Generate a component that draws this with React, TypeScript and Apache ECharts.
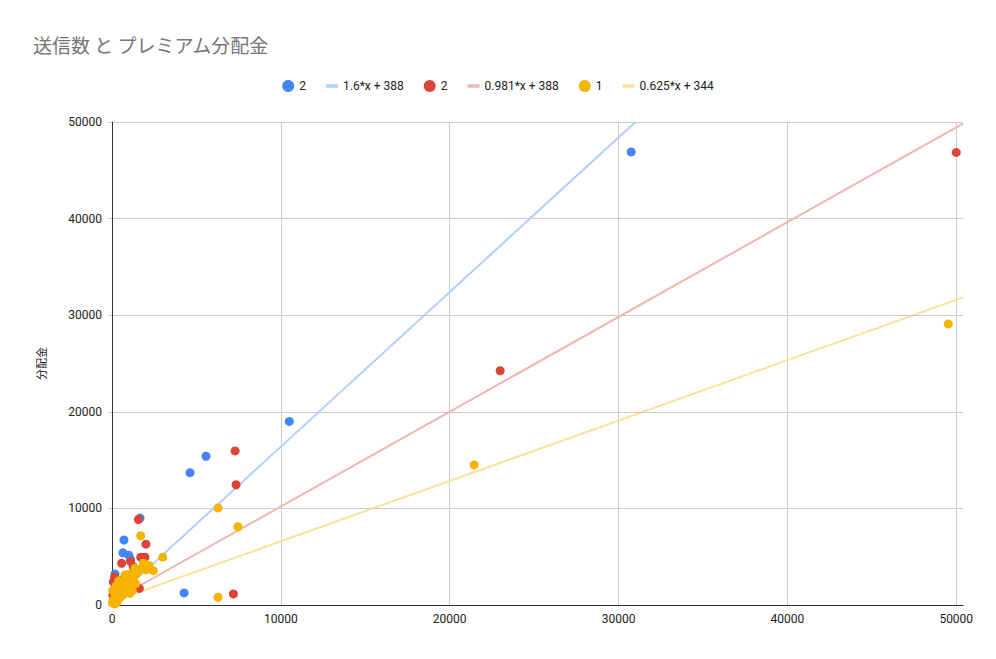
import React, { useEffect, useRef } from "react";
import * as echarts from "echarts";

const titleText = "送信数 と プレミアム分配金";
const yAxisName = "分配金";

const blueLabel = "2";
const blueTrendLabel = "1.6*x + 388";
const redLabel = "2";
const redTrendLabel = "0.981*x + 388";
const yellowLabel = "1";
const yellowTrendLabel = "0.625*x + 344";

const bluePoints: number[][] = [
  [30750, 46900], [10500, 19000], [5570, 15400], [4620, 13700], [4270, 1250],
  [1660, 9000], [710, 6730], [650, 5400], [1000, 5150], [180, 3200],
  [1100, 4700], [400, 2200], [800, 2700], [300, 1500], [100, 800],
  [1200, 3000], [500, 1200],
];

const redPoints: number[][] = [
  [50000, 46850], [22990, 24250], [7290, 15950], [7350, 12450], [7190, 1150],
  [1560, 8850], [2010, 6300], [1950, 4950], [1700, 4950], [570, 4320],
  [1100, 4500], [1260, 3960], [80, 2400], [1620, 1720], [300, 2300],
  [600, 2600], [900, 3100], [200, 1800], [50, 1000], [1000, 1700],
  [150, 2900], [700, 2100],
];

const yellowPoints: number[][] = [
  [49530, 29100], [21450, 14500], [7460, 8100], [6280, 10050], [6280, 800],
  [3000, 4950], [1700, 7180], [2450, 3550], [1860, 4320], [1760, 3800],
  [1360, 3800], [2010, 3650], [770, 3100], [1170, 2590], [970, 1890],
  [470, 1890], [180, 1210], [1070, 1210], [80, 520], [300, 300],
  [150, 100], [50, 1500], [400, 2500], [600, 2100], [800, 1500],
  [1300, 2900], [900, 2700], [250, 2000], [500, 800], [700, 1100],
  [1000, 2300], [1500, 3300], [350, 1000], [200, 400],
  [600, 1700], [1200, 1500], [1100, 3200], [30, 200],
  [1400, 2200], [2200, 4100], [2100, 3800],
];

const blueTrend: number[][] = [[0, 388], [31000, 50000]];
const redTrend: number[][] = [[0, 388], [50400, 49830]];
const yellowTrend: number[][] = [[0, 344], [50400, 31844]];

const xMaxData = 50400;
const xMaxTicks = 50000;
const yMax = 50000;
const tickStep = 10000;

const labels: Record<string, string> = {
  b: blueLabel,
  bt: blueTrendLabel,
  r: redLabel,
  rt: redTrendLabel,
  y: yellowLabel,
  yt: yellowTrendLabel,
};

const BLUE = "#4285F4";
const RED = "#DB4437";
const YELLOW = "#F4B400";
const BLUE_L = "#B3CEFB";
const RED_L = "#F1B4AF";
const YELLOW_L = "#FBE199";

const trendIcon = "path://M0,0H14V4H0Z";

export default function App() {
  const ref = useRef<HTMLDivElement>(null);
  useEffect(() => {
    if (!ref.current) return;
    const chart = echarts.init(ref.current, undefined, { renderer: "svg" });
    const font = "Roboto, Arial, sans-serif";
    const scatter = (id: string, data: number[][], color: string, z: number) => ({
      id,
      name: id,
      type: "scatter",
      data,
      symbolSize: 9,
      itemStyle: { color, opacity: 1 },
      xAxisIndex: 0,
      yAxisIndex: 0,
      z,
    });
    const trend = (id: string, data: number[][], color: string) => ({
      id,
      name: id,
      type: "line",
      data,
      showSymbol: false,
      symbol: "none",
      lineStyle: { color, width: 2 },
      itemStyle: { color },
      clip: true,
      xAxisIndex: 0,
      yAxisIndex: 0,
      z: 1,
    });
    const plotLeft = 104;
    const plotRight = 25;
    const plotWidth = 980 - plotLeft - plotRight;
    const tickRight = plotRight + (plotWidth * (xMaxData - xMaxTicks)) / xMaxData;
    chart.setOption({
      animation: false,
      backgroundColor: "#ffffff",
      textStyle: { fontFamily: font },
      title: {
        text: titleText,
        left: 20,
        top: 22,
        textStyle: {
          color: "#757575",
          fontSize: 19,
          fontWeight: "normal",
          fontFamily: "'Noto Sans CJK JP', Roboto, sans-serif",
        },
      },
      legend: {
        left: "center",
        top: 67,
        itemWidth: 12,
        itemHeight: 12,
        itemGap: 20,
        textStyle: { color: "#222222", fontSize: 12, fontFamily: font },
        formatter: (name: string) => labels[name] ?? name,
        data: [
          { name: "b", icon: "circle" },
          { name: "bt", icon: trendIcon },
          { name: "r", icon: "circle" },
          { name: "rt", icon: trendIcon },
          { name: "y", icon: "circle" },
          { name: "yt", icon: trendIcon },
        ],
      },
      grid: [
        { left: plotLeft, right: plotRight, top: 114, bottom: 46, containLabel: false },
        { left: plotLeft, right: tickRight, top: 114, bottom: 46, containLabel: false },
      ],
      xAxis: [
        {
          type: "value",
          gridIndex: 0,
          min: 0,
          max: xMaxData,
          axisLine: { show: true, onZero: false, lineStyle: { color: "#333333", width: 1 } },
          axisTick: { show: false },
          splitLine: { show: false },
          axisLabel: { show: false },
          z: 3,
        },
        {
          type: "value",
          gridIndex: 1,
          min: 0,
          max: xMaxTicks,
          interval: tickStep,
          axisLine: { show: false },
          axisTick: { show: false },
          splitLine: { show: true, lineStyle: { color: "#cccccc", width: 1 } },
          axisLabel: {
            color: "#222222",
            fontSize: 12,
            margin: 8,
            formatter: (v: number) => String(v),
          },
        },
      ],
      yAxis: [
        {
          type: "value",
          gridIndex: 0,
          min: 0,
          max: yMax,
          interval: tickStep,
          name: yAxisName,
          nameLocation: "middle",
          nameGap: 66,
          nameTextStyle: {
            color: "#222222",
            fontSize: 11,
            fontFamily: "'Noto Sans CJK JP', sans-serif",
          },
          axisLine: { show: true, lineStyle: { color: "#333333", width: 1 } },
          axisTick: { show: true, length: 4, lineStyle: { color: "#cccccc" } },
          splitLine: { show: true, lineStyle: { color: "#cccccc", width: 1 } },
          axisLabel: {
            color: "#222222",
            fontSize: 12,
            margin: 10,
            formatter: (v: number) => String(v),
          },
          z: 3,
        },
        {
          type: "value",
          gridIndex: 1,
          min: 0,
          max: yMax,
          show: false,
        },
      ],
      series: [
        trend("bt", blueTrend, BLUE_L),
        trend("rt", redTrend, RED_L),
        trend("yt", yellowTrend, YELLOW_L),
        scatter("b", bluePoints, BLUE, 3),
        scatter("r", redPoints, RED, 4),
        scatter("y", yellowPoints, YELLOW, 5),
      ],
    });
    return () => chart.dispose();
  }, []);
  return <div ref={ref} style={{ width: 980, height: 643 }} />;
}
